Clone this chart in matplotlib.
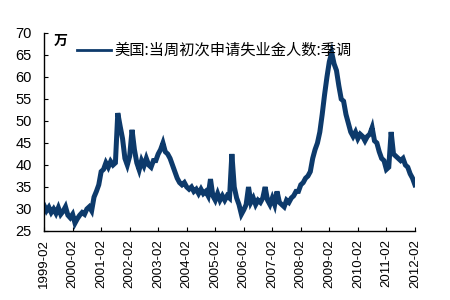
import matplotlib
matplotlib.use("Agg")
import matplotlib.pyplot as plt
import numpy as np

# Monthly values (万), 1999-02 .. 2012-02
y1999 = [30.8, 29.6, 30.4, 29.2, 30.0, 29.0, 30.3, 28.8, 29.5, 30.5, 28.6]
y2000 = [28.0, 28.8, 26.8, 27.8, 28.6, 29.2, 28.8, 30.0, 30.5, 29.6, 32.7, 34.0]
y2001 = [35.5, 38.5, 39.0, 40.5, 39.5, 40.8, 40.0, 40.5, 51.8, 48.8, 46.0, 41.5]
y2002 = [40.0, 42.0, 48.0, 43.5, 40.5, 38.9, 41.0, 39.8, 41.5, 40.0, 39.5, 41.0]
y2003 = [41.0, 42.5, 43.5, 45.0, 43.0, 42.5, 41.5, 40.0, 38.5, 37.0, 36.0, 35.5]
y2004 = [36.0, 35.0, 34.5, 35.0, 34.0, 34.5, 33.5, 34.5, 33.5, 34.0, 33.0, 36.8]
y2005 = [33.0, 32.0, 33.5, 32.0, 33.0, 32.0, 33.0, 32.5, 42.5, 35.0, 32.5, 31.0]
y2006 = [28.8, 29.8, 31.0, 35.0, 31.5, 32.5, 31.0, 32.0, 31.5, 32.5, 35.0, 32.0]
y2007 = [31.0, 32.5, 31.0, 34.0, 31.5, 31.0, 30.5, 32.0, 31.5, 32.5, 33.0, 34.0]
y2008 = [34.0, 35.5, 36.0, 37.0, 37.5, 38.5, 41.5, 43.5, 45.0, 47.5, 51.5, 56.0]
y2009 = [60.0, 63.5, 65.5, 63.0, 61.5, 58.0, 55.0, 54.5, 51.5, 49.5, 47.5, 46.5]
y2010 = [47.5, 46.0, 47.0, 46.5, 45.5, 46.5, 47.0, 48.5, 45.5, 45.0, 43.0, 41.5]
y2011 = [41.0, 39.0, 39.5, 47.5, 42.5, 42.0, 41.5, 41.0, 41.5, 40.0, 39.5, 38.0]
y2012 = [37.0, 35.5]

values = (y1999 + y2000 + y2001 + y2002 + y2003 + y2004 + y2005 + y2006 +
          y2007 + y2008 + y2009 + y2010 + y2011 + y2012)
tick_labels = [f"{y}-02" for y in range(1999, 2013)]
legend_label = "美国:当周初次申请失业金人数:季调"
unit_label = "万"

x = 1999 + 1 / 12 + np.arange(len(values)) / 12.0

plt.rcParams['font.family'] = ['Liberation Sans', 'Noto Sans CJK SC', 'DejaVu Sans']

fig = plt.figure(figsize=(4.5, 3.0), dpi=100)
ax = fig.add_axes([0.098, 0.23, 0.824, 0.66])

color = '#0d3a6b'
ax.plot(x, values, color=color, lw=3.6, solid_joinstyle='miter', label=legend_label)

ax.set_xlim(1999 + 1 / 12, 2012 + 1 / 12)
ax.set_ylim(25, 70)
ax.set_yticks(np.arange(25, 71, 5))
ax.set_xticks([y + 1 / 12 for y in range(1999, 2013)])
ax.set_xticklabels(tick_labels, rotation=90, fontsize=9.5)
ax.tick_params(axis='y', labelsize=10.5, direction='in', length=3, pad=9)
ax.tick_params(axis='x', direction='in', length=3, pad=6)
for s in ['top', 'right']:
    ax.spines[s].set_visible(False)
for s in ['left', 'bottom']:
    ax.spines[s].set_linewidth(1.0)

ax.text(0.025, 0.995, unit_label, transform=ax.transAxes, fontsize=10,
        fontweight='bold', family=['Noto Sans CJK SC', 'DejaVu Sans'],
        va='top', ha='left')

leg = ax.legend(loc='upper left', bbox_to_anchor=(0.09, 0.955), frameon=False,
                borderaxespad=0, borderpad=0, handlelength=2.2, handletextpad=0.2,
                prop={'family': ['Noto Sans CJK SC', 'DejaVu Sans'], 'size': 11})
for line in leg.get_lines():
    line.set_linewidth(2.0)

fig.savefig('out.png', dpi=100)
